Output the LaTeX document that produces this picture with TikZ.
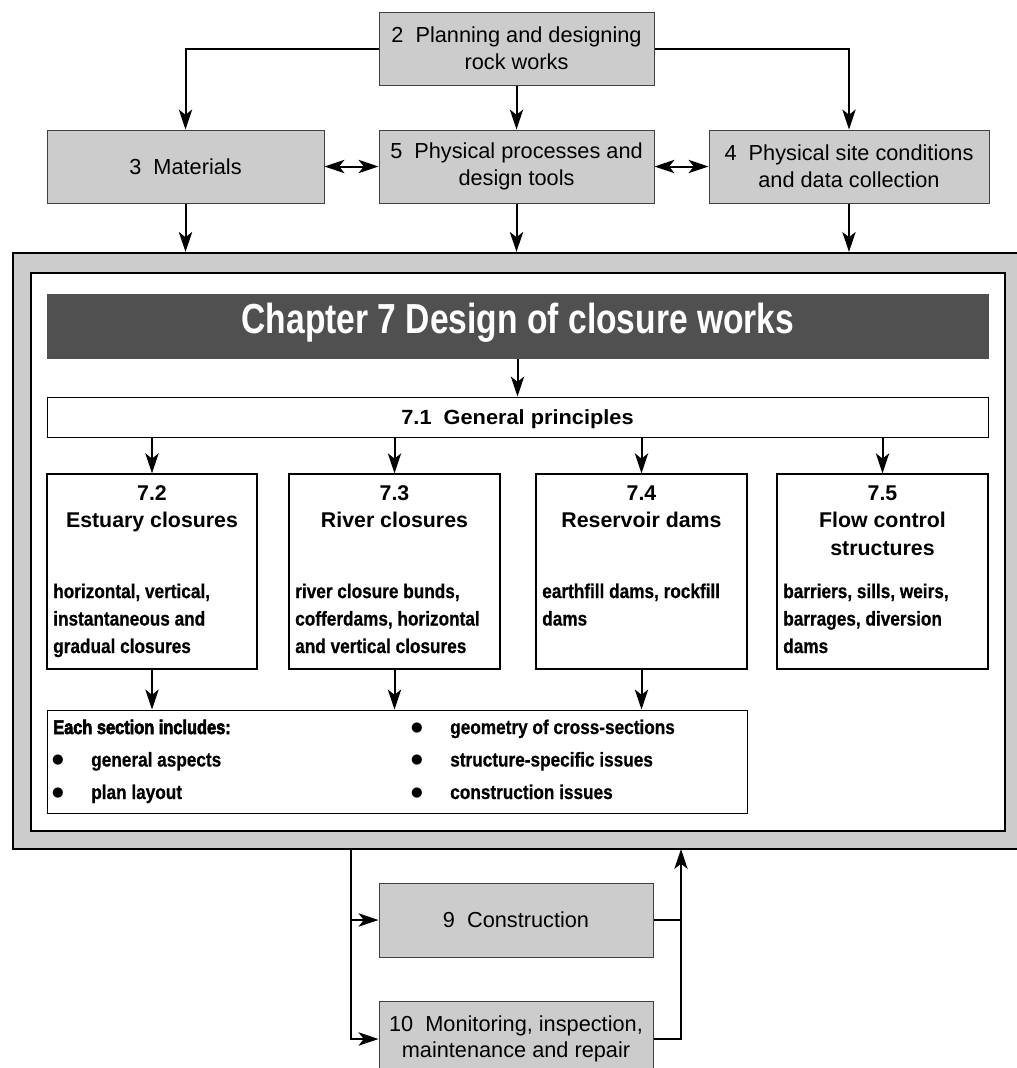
\documentclass[tikz,border=0pt]{standalone}
\usepackage{fontspec}
\usetikzlibrary{arrows.meta}
\setmainfont{Liberation Sans}
\newfontfamily\titlef{Liberation Sans}[FakeStretch=1.0]
\newfontfamily\gpf{Liberation Sans}[FakeStretch=1.06]
\newfontfamily\descf{Liberation Sans}[FakeStretch=0.86,BoldFeatures={FakeBold=0.6}]
\newfontfamily\headf{Liberation Sans}[FakeStretch=0.80]
\newfontfamily\heavyf{Liberation Sans}[FakeStretch=0.83,BoldFeatures={FakeBold=3}]
\newfontfamily\symf{DejaVu Sans}
\newcommand{\myfs}[2]{\fontsize{#1}{#2}\selectfont}
\definecolor{boxgray}{RGB}{204,204,204}
\definecolor{hdrgray}{RGB}{80,80,80}
\begin{document}
\begin{tikzpicture}[x=0.75pt,y=-0.75pt,
  sz/.style 2 args={minimum width=#1*0.75pt, minimum height=#2*0.75pt},
  graybox/.style={draw=black!75, line width=0.75pt, fill=boxgray, inner sep=0pt, align=center, font=\myfs{16.3}{20}},
  secbox/.style={draw=black, line width=1pt, fill=white, inner sep=0pt},
  frameout/.style={draw=black, line width=1.6pt, fill=boxgray, inner sep=0pt},
  framein/.style={draw=black, line width=1.6pt, fill=white, inner sep=0pt},
  header/.style={fill=hdrgray, inner sep=0pt},
  headtxt/.style={text=white, inner sep=0pt, font=\headf\bfseries\myfs{31.5}{36}},
  titletxt/.style={inner sep=0pt, align=center, font=\titlef\bfseries\myfs{16}{20.6}},
  desctxt/.style={inner sep=0pt, align=left, font=\descf\bfseries\myfs{15}{20.6}},
  heavytxt/.style={inner sep=0pt, font=\heavyf\bfseries\myfs{14.8}{20}},
  bul/.style={inner sep=0pt, font=\symf\myfs{10}{12}},
  line/.style={line width=1.5pt},
  arr/.style={line width=1.5pt, -{Stealth[length=15pt,width=10pt,inset=4pt]}},
  darr/.style={line width=1.5pt, {Stealth[length=15pt,width=10pt,inset=4pt]}-{Stealth[length=15pt,width=10pt,inset=4pt]}}
]
\path[use as bounding box, clip] (0,0) rectangle (1017,1068);
\fill[white] (0,0) rectangle (1017,1068);

% top boxes
\node[graybox, sz={275}{73}] (b2) at (516.5,48.5) {2\ \ Planning and designing\\rock works};
\node[graybox, sz={277}{73}] (b3) at (185.5,166.5) {3\ \ Materials};
\node[graybox, sz={275}{73}] (b5) at (516.5,166.5) {5\ \ Physical processes and\\design tools};
\node[graybox, sz={280}{73}] (b4) at (849,166.5) {4\ \ Physical site conditions\\and data collection};

% frames
\node[frameout, sz={1030}{596}] (frame) at (528,551) {};
\node[framein, sz={974}{558}] (inner) at (518,552) {};
\node[header, sz={942}{65}] (hdr) at (518,326.5) {};
\node[headtxt, anchor=base] (hdrtxt) at (518,333) {Chapter 7 Design of closure works};
\node[secbox, line width=0.75pt, sz={941}{40}, font=\gpf\bfseries\myfs{15.4}{20}, text depth=0pt] (gp) at (517.5,417) {7.1\ \ General principles};

% section boxes
\node[secbox, sz={210}{195}] (s72) at (152,571.5) {};
\node[secbox, sz={211}{195}] (s73) at (394.5,571.5) {};
\node[secbox, sz={211}{195}] (s74) at (641.5,571.5) {};
\node[secbox, sz={211}{195}] (s75) at (882.5,571.5) {};

% multi-line nodes: base anchor = baseline of last line
\node[titletxt, anchor=base] (t72) at (152,527.5) {7.2\\Estuary closures};
\node[titletxt, anchor=base] (t73) at (394.5,527.5) {7.3\\River closures};
\node[titletxt, anchor=base] (t74) at (641.5,527.5) {7.4\\Reservoir dams};
\node[titletxt, anchor=base] (t75) at (882.5,555) {7.5\\Flow control\\structures};

\node[desctxt, anchor=base west] (d72) at (53,653) {horizontal, vertical,\\instantaneous and\\gradual closures};
\node[desctxt, anchor=base west] (d73) at (295,653) {river closure bunds,\\cofferdams, horizontal\\and vertical closures};
\node[desctxt, anchor=base west] (d74) at (542,625.5) {earthfill dams, rockfill\\dams};
\node[desctxt, anchor=base west] (d75) at (783,653) {barriers, sills, weirs,\\barrages, diversion\\dams};

% includes box
\node[secbox, line width=0.75pt, sz={700}{103}] (inc) at (397,761.5) {};
\node[heavytxt, anchor=base west] (inchead) at (53,734) {Each section includes:};
\node[bul] (bu1) at (58,760.5) {●};
\node[bul] (bu2) at (58,793) {●};
\node[bul] (bu3) at (417,728) {●};
\node[bul] (bu4) at (417,760.5) {●};
\node[bul] (bu5) at (417,793) {●};
\node[desctxt, anchor=base west] (it1) at (91,766.5) {general aspects};
\node[desctxt, anchor=base west] (it2) at (91,799) {plan layout};
\node[desctxt, anchor=base west] (it3) at (450,734) {geometry of cross-sections};
\node[desctxt, anchor=base west] (it4) at (450,766.5) {structure-specific issues};
\node[desctxt, anchor=base west] (it5) at (450,799) {construction issues};

% bottom boxes
\node[graybox, sz={274}{74}] (b9) at (516,920) {9\ \ Construction};
\node[graybox, sz={274}{76}] (b10) at (516,1039) {10\ \ Monitoring, inspection,\\maintenance and repair};
\coordinate (fL) at (351,849);
\coordinate (fR) at (681,849);

% connectors
\draw[arr] (b2.west) -| (b3.north);
\draw[arr] (b2.east) -| (b4.north);
\draw[arr] (b2.south) -- (b5.north);
\draw[darr] (b3.east) -- (b5.west);
\draw[darr] (b5.east) -- (b4.west);
\draw[arr] (b3.south) -- (b3.south |- frame.north);
\draw[arr] (b5.south) -- (b5.south |- frame.north);
\draw[arr] (b4.south) -- (b4.south |- frame.north);
\draw[arr] (hdr.south -| gp.north) -- (gp.north);
\draw[arr] (gp.south -| s72.north) -- (s72.north);
\draw[arr] (gp.south -| s73.north) -- (s73.north);
\draw[arr] (gp.south -| s74.north) -- (s74.north);
\draw[arr] (gp.south -| s75.north) -- (s75.north);
\draw[arr] (s72.south) -- (s72.south |- inc.north);
\draw[arr] (s73.south) -- (s73.south |- inc.north);
\draw[arr] (s74.south) -- (s74.south |- inc.north);
\draw[arr] (fL) |- (b10.west);
\draw[arr] (fL |- b9.west) -- (b9.west);
\draw[line] (b9.east) -- (b9.east -| fR);
\draw[arr] (b10.east) -| (fR);
\end{tikzpicture}
\end{document}
